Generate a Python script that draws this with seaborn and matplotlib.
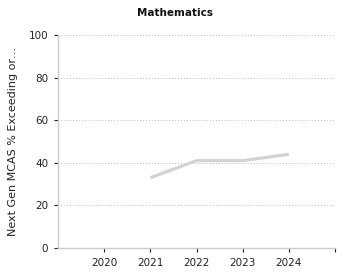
import matplotlib
matplotlib.use("Agg")
import matplotlib.pyplot as plt
import seaborn as sns
import pandas as pd

years = [2021, 2022, 2023, 2024]
values = [33, 41, 41, 44]
tick_years = [2020, 2021, 2022, 2023, 2024, 2025]
tick_labels = ["2020", "2021", "2022", "2023", "2024", ""]
title = "Mathematics"
ylabel = "Next Gen MCAS % Exceeding or\u2026"

sns.set_style("white")
plt.rcParams['font.family'] = ['DejaVu Sans']

df = pd.DataFrame({"year": years, "value": values})

fig = plt.figure(figsize=(3.5, 2.8), dpi=100)
ax = fig.add_axes([58/350, 32/280, (335-58)/350, (248-35)/280])

sns.lineplot(data=df, x="year", y="value", ax=ax, color="#d3d3d3", linewidth=2.3, solid_capstyle="butt")

ax.set_xlim(2019, 2025)
ax.set_ylim(0, 100)
ax.set_xticks(tick_years)
ax.set_xticklabels(tick_labels, fontsize=7.5, color="#222222")
ax.set_yticks([0, 20, 40, 60, 80, 100])
ax.set_yticklabels(["0", "20", "40", "60", "80", "100"], fontsize=7.5, color="#222222")
ax.tick_params(axis="both", length=3, width=0.8, color="#222222", pad=4, direction="out")
ax.tick_params(axis="x", bottom=True)
ax.tick_params(axis="y", left=True)

ax.yaxis.grid(True, linestyle=(0, (1, 2)), color="#bbbbbb", linewidth=0.7)
ax.xaxis.grid(False)
ax.set_axisbelow(True)

for s in ["top", "right"]:
    ax.spines[s].set_visible(False)
for s in ["left", "bottom"]:
    ax.spines[s].set_color("#cccccc")
    ax.spines[s].set_linewidth(1)

ax.set_xlabel("")
ax.set_ylabel(ylabel, fontsize=8, color="#222222", labelpad=8)
fig.text(175/350, 1 - 13/280, title, ha="center", va="center", fontsize=7.5, fontweight="bold", color="#111111")

fig.savefig("out.png", dpi=100)
